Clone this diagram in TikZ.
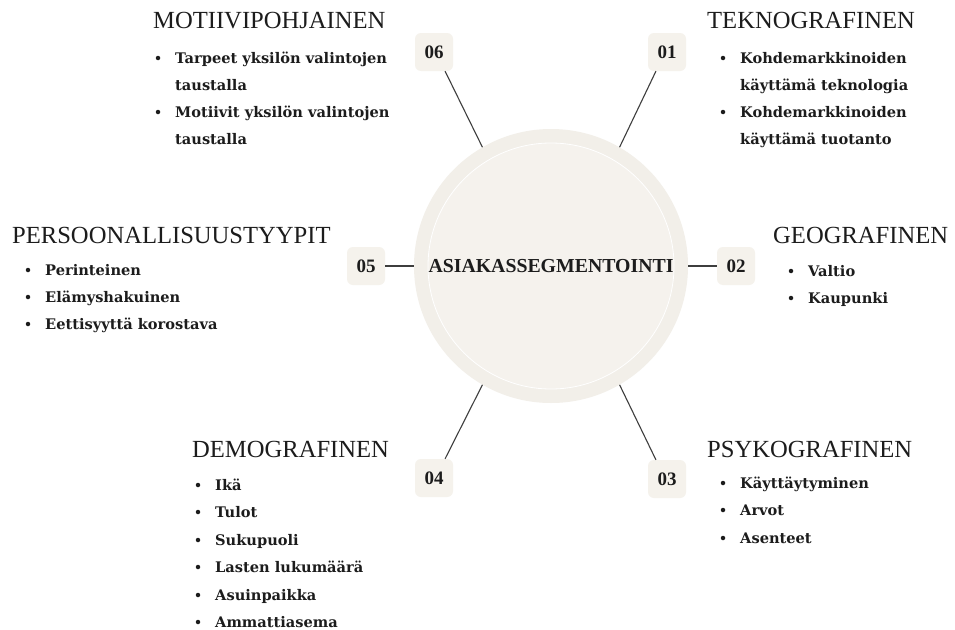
\documentclass[tikz,border=0pt]{standalone}
\usepackage{fontspec}
\setmainfont{Liberation Serif}
\newfontfamily\itemfont{DejaVu Serif}
\definecolor{hubfill}{HTML}{F2EFE9}
\definecolor{hubinner}{HTML}{F5F2ED}
\definecolor{boxfill}{HTML}{F5F2EC}
\definecolor{ink}{HTML}{1C1C1C}
\begin{document}
\begin{tikzpicture}[x=1pt,y=-1pt,
  numbox/.style={fill=boxfill, rounded corners=6pt, minimum width=38pt, minimum height=38pt,
    inner sep=0pt, font=\bfseries\fontsize{19}{19}\selectfont, text=ink},
  heading/.style={anchor=base west, inner sep=0pt, font=\fontsize{24.6}{24.6}\selectfont, text=ink},
  item/.style={anchor=base west, inner sep=0pt, font=\itemfont\bfseries\fontsize{14.6}{14.6}\selectfont, text=ink},
  bullet/.style={circle, fill=ink, inner sep=0pt, minimum size=4.5pt},
  link/.style={draw=ink!85, line width=1.1pt}]
\useasboundingbox (0,0) rectangle (955,629);
\fill[white] (0,0) rectangle (955,629);

% central hub
\node[circle, fill=hubfill, minimum size=274pt, inner sep=0pt] (hub) at (551,266) {};
\draw[white, fill=hubinner, line width=0.8pt] (hub.center) circle (123);
\node[font=\bfseries\fontsize{19.8}{19.8}\selectfont, text=ink, inner sep=0pt] (title) at (hub.center) {ASIAKASSEGMENTOINTI};

% numbered boxes
\node[numbox] (b01) at (667,52) {01};
\node[numbox] (b02) at (736,266) {02};
\node[numbox] (b03) at (667,479) {03};
\node[numbox] (b04) at (434,478) {04};
\node[numbox] (b05) at (366,266) {05};
\node[numbox] (b06) at (434,52) {06};

% spokes
\draw[link] (hub.60) -- (b01.240);
\draw[link] (hub.east) -- (b02.west);
\draw[link] (hub.300) -- (b03.120);
\draw[link] (hub.240) -- (b04.60);
\draw[link] (hub.west) -- (b05.east);
\draw[link] (hub.120) -- (b06.300);

% 06 MOTIIVIPOHJAINEN
\node[heading] (h06) at (153,28) {MOTIIVIPOHJAINEN};
\node[bullet] (d061) at (158,58) {};
\node[item] (t061) at (175,63) {Tarpeet yksilön valintojen};
\node[item] (t062) at (175,90) {taustalla};
\node[bullet] (d062) at (158,112) {};
\node[item] (t063) at (175,117) {Motiivit yksilön valintojen};
\node[item] (t064) at (175,144) {taustalla};

% 01 TEKNOGRAFINEN
\node[heading] (h01) at (707,28) {TEKNOGRAFINEN};
\node[bullet] (d011) at (723,58) {};
\node[item] (t011) at (740,63) {Kohdemarkkinoiden};
\node[item] (t012) at (740,90) {käyttämä teknologia};
\node[bullet] (d012) at (723,112) {};
\node[item] (t013) at (740,117) {Kohdemarkkinoiden};
\node[item] (t014) at (740,144) {käyttämä tuotanto};

% 05 PERSOONALLISUUSTYYPIT
\node[heading] (h05) at (12,243) {PERSOONALLISUUSTYYPIT};
\node[bullet] (d051) at (28,270) {};
\node[item] (t051) at (45,275) {Perinteinen};
\node[bullet] (d052) at (28,297) {};
\node[item] (t052) at (45,302) {Elämyshakuinen};
\node[bullet] (d053) at (28,324) {};
\node[item] (t053) at (45,329) {Eettisyyttä korostava};

% 02 GEOGRAFINEN
\node[heading] (h02) at (773,243) {GEOGRAFINEN};
\node[bullet] (d021) at (791,271) {};
\node[item] (t021) at (808,276) {Valtio};
\node[bullet] (d022) at (791,298) {};
\node[item] (t022) at (808,303) {Kaupunki};

% 04 DEMOGRAFINEN
\node[heading] (h04) at (192,457) {DEMOGRAFINEN};
\node[bullet] (d041) at (198,485) {};
\node[item] (t041) at (215,490) {Ikä};
\node[bullet] (d042) at (198,512) {};
\node[item] (t042) at (215,517) {Tulot};
\node[bullet] (d043) at (198,540) {};
\node[item] (t043) at (215,545) {Sukupuoli};
\node[bullet] (d044) at (198,567) {};
\node[item] (t044) at (215,572) {Lasten lukumäärä};
\node[bullet] (d045) at (198,595) {};
\node[item] (t045) at (215,600) {Asuinpaikka};
\node[bullet] (d046) at (198,622) {};
\node[item] (t046) at (215,627) {Ammattiasema};

% 03 PSYKOGRAFINEN
\node[heading] (h03) at (707,457) {PSYKOGRAFINEN};
\node[bullet] (d031) at (723,483) {};
\node[item] (t031) at (740,488) {Käyttäytyminen};
\node[bullet] (d032) at (723,510) {};
\node[item] (t032) at (740,515) {Arvot};
\node[bullet] (d033) at (723,538) {};
\node[item] (t033) at (740,543) {Asenteet};
\end{tikzpicture}
\end{document}
